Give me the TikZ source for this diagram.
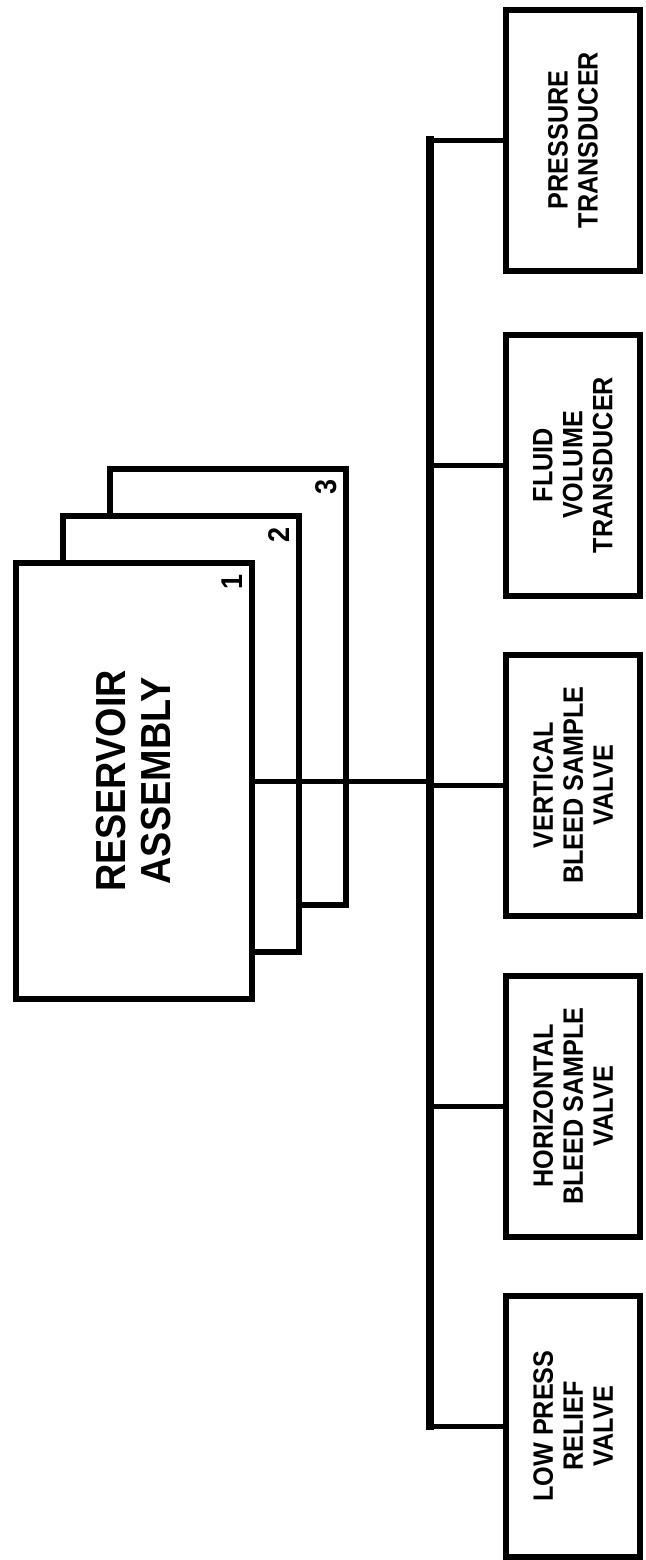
\documentclass[tikz,border=0pt]{standalone}
\usepackage{fontspec}
\setmainfont{Liberation Sans}
\newfontfamily\condensedfont{Liberation Sans}[FakeStretch=0.9]

\begin{document}
\begin{tikzpicture}[x=0.5pt, y=-0.5pt,
    resbox/.style={draw, fill=white, line width=3pt, rotate=90, minimum width=218pt, minimum height=118pt, inner sep=0pt},
    partbox/.style={draw, line width=3pt, rotate=90, minimum width=130.5pt, minimum height=67pt, inner sep=0pt, align=center, font=\condensedfont\bfseries\fontsize{14}{15}\selectfont},
    tag/.style={rotate=90, inner sep=0pt, font=\condensedfont\bfseries\fontsize{15}{15}\selectfont},
    link/.style={line width=2.5pt},
    trunk/.style={line width=4pt, line cap=rect}]
  \useasboundingbox (0,0) rectangle (645,1560);
  % stacked reservoir assemblies
  \node[resbox] (res3) at (228,687) {};
  \node[resbox] (res2) at (181,734) {};
  \node[resbox, align=center, font=\condensedfont\bfseries\fontsize{21}{22.5}\selectfont] (res1) at (134,781) {RESERVOIR\\ASSEMBLY};
  \node[tag] (n3) at (326,487) {3};
  \node[tag] (n2) at (279,535) {2};
  \node[tag] (n1) at (232,582) {1};
  % components
  \node[partbox] (press) at (573,140) {PRESSURE\\TRANSDUCER};
  \node[partbox] (fluid) at (573,465) {FLUID\\VOLUME\\TRANSDUCER};
  \node[partbox] (vert) at (573,785) {VERTICAL\\BLEED SAMPLE\\VALVE};
  \node[partbox] (horiz) at (573,1106) {HORIZONTAL\\BLEED SAMPLE\\VALVE};
  \node[partbox] (lowp) at (573,1426) {LOW PRESS\\RELIEF\\VALVE};
  % connectors
  \coordinate (bus) at (430,0);
  \draw[trunk] (press.north -| bus) -- (lowp.north -| bus);
  \draw[link] (res1.south) -- (res1.south -| bus);
  \foreach \part in {press,fluid,vert,horiz,lowp}
    \draw[link] (\part.north -| bus) -- (\part.north);
\end{tikzpicture}
\end{document}
